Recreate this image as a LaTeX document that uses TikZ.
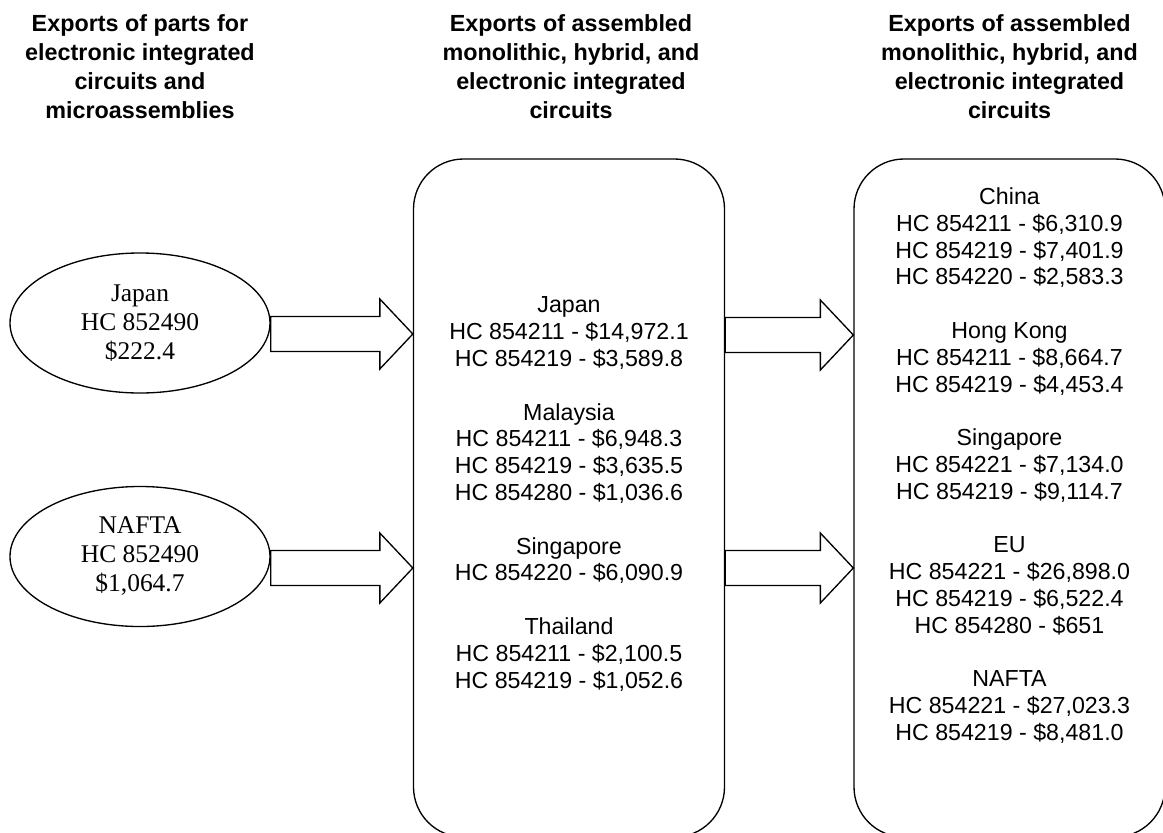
\documentclass[tikz,border=0pt]{standalone}
\usepackage{fontspec}
\setmainfont{Liberation Serif}
\setsansfont{Liberation Sans}
\usetikzlibrary{shapes.geometric,calc}
\newcommand\barrow[2]{%
  \draw[arrowline] ($(#1)+(0,-17.5)$) -- ($(#2)+(-33,-17.5)$) -- ($(#2)+(-33,-35)$) -- (#2)
    -- ($(#2)+(-33,35)$) -- ($(#2)+(-33,17.5)$) -- ($(#1)+(0,17.5)$) -- cycle;}
\begin{document}
\begin{tikzpicture}[x=0.75pt,y=-0.75pt,line width=1pt,
  hdr/.style={font=\sffamily\bfseries\fontsize{17.5}{21.7}\selectfont,align=center,inner sep=0pt},
  body/.style={font=\sffamily\fontsize{17.4}{20.1}\selectfont,align=center,inner sep=0pt},
  src/.style={ellipse,draw,minimum width=195pt,minimum height=105pt,inner sep=0pt,
    font=\rmfamily\fontsize{19.1}{21.75}\selectfont,align=center},
  stage/.style={draw,rounded corners=37.5pt,minimum width=233.25pt,minimum height=508.5pt,inner sep=0pt},
  arrowline/.style={draw,fill=white,line join=miter}]
\useasboundingbox (0,0) rectangle (1163,832);
\clip (0,0) rectangle (1163,832);
\fill[white] (0,0) rectangle (1163,832);

\node[hdr] (h1) at (140,66.5) {Exports of parts for\\electronic integrated\\circuits and\\microassemblies};
\node[hdr] (h2) at (571,66.5) {Exports of assembled\\monolithic, hybrid, and\\electronic integrated\\circuits};
\node[hdr] (h3) at (1009.5,66.5) {Exports of assembled\\monolithic, hybrid, and\\electronic integrated\\circuits};

\node[src] (j) at (140,323) {Japan\\HC 852490\\\$222.4};
\node[src] (n) at (140,556.5) {NAFTA\\HC 852490\\\$1,064.7};

\node[stage] (mid) at (569,498) {};
\node[stage] (rt) at (1009.5,498) {};

\node[body] (midtxt) at (569,494) {Japan\\HC 854211 - \$14,972.1\\HC 854219 - \$3,589.8\\[20.1pt]
Malaysia\\HC 854211 - \$6,948.3\\HC 854219 - \$3,635.5\\HC 854280 - \$1,036.6\\[20.1pt]
Singapore\\HC 854220 - \$6,090.9\\[20.1pt]
Thailand\\HC 854211 - \$2,100.5\\HC 854219 - \$1,052.6};

\node[body] (rttxt) at (1009.5,465.5) {China\\HC 854211 - \$6,310.9\\HC 854219 - \$7,401.9\\HC 854220 - \$2,583.3\\[20.1pt]
Hong Kong\\HC 854211 - \$8,664.7\\HC 854219 - \$4,453.4\\[20.1pt]
Singapore\\HC 854221 - \$7,134.0\\HC 854219 - \$9,114.7\\[20.1pt]
EU\\HC 854221 - \$26,898.0\\HC 854219 - \$6,522.4\\HC 854280 - \$651\\[20.1pt]
NAFTA\\HC 854221 - \$27,023.3\\HC 854219 - \$8,481.0};

\coordinate (a1t) at (mid.west |- 0,334);
\coordinate (a1s) at (j.east |- a1t);
\coordinate (a2t) at (mid.west |- 0,568);
\coordinate (a2s) at (n.east |- a2t);
\coordinate (a3t) at (rt.west |- 0,335);
\coordinate (a3s) at (mid.east |- a3t);
\coordinate (a4t) at (rt.west |- 0,568);
\coordinate (a4s) at (mid.east |- a4t);
\barrow{a1s}{a1t}
\barrow{a2s}{a2t}
\barrow{a3s}{a3t}
\barrow{a4s}{a4t}
\end{tikzpicture}
\end{document}
